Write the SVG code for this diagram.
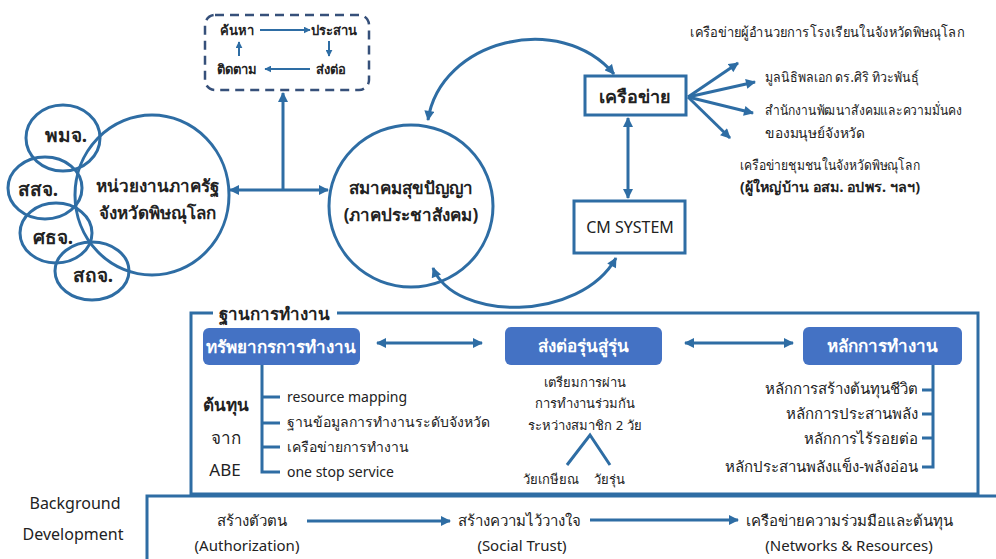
<svg xmlns="http://www.w3.org/2000/svg" width="996" height="559" viewBox="0 0 996 559">
<defs>
<style>
text{font-family:"Noto Sans","DejaVu Sans","Liberation Sans",sans-serif;fill:#222;}
.b{font-weight:bold;}
.c{text-anchor:middle;}
.e{text-anchor:end;}
.ln{fill:none;stroke:#2E6DA4;stroke-width:3;}
.thin{fill:none;stroke:#2E6DA4;stroke-width:2;}
.circn{fill:none;stroke:#2E6DA4;stroke-width:3;}
.blue{fill:#4472C4;}
.wt{fill:#fff;font-weight:bold;font-size:17px;text-anchor:middle;}
</style>
<marker id="ah" viewBox="0 0 10 10" refX="9" refY="5" markerWidth="11" markerHeight="10" markerUnits="userSpaceOnUse" orient="auto-start-reverse"><path d="M0,0 L10,5 L0,10 z" fill="#2E6DA4"/></marker>
<marker id="sm" viewBox="0 0 10 10" refX="9" refY="5" markerWidth="7" markerHeight="7" markerUnits="userSpaceOnUse" orient="auto-start-reverse"><path d="M0,0 L10,5 L0,10 z" fill="#2E6DA4"/></marker>
</defs>
<rect width="996" height="559" fill="#fff"/>

<g id="cycle">
<rect x="205" y="15" width="164" height="75" rx="10" fill="none" stroke="#36507A" stroke-width="2.5" stroke-dasharray="9,6"/>
<text class="c b" x="237" y="35" font-size="13">ค้นหา</text>
<text class="c b" x="334" y="35" font-size="13">ประสาน</text>
<text class="c b" x="237" y="74" font-size="13">ติดตาม</text>
<text class="c b" x="331" y="74" font-size="13">ส่งต่อ</text>
<path class="thin" d="M260,30 H310" marker-end="url(#sm)"/>
<path class="thin" d="M329,41 V56" marker-end="url(#sm)"/>
<path class="thin" d="M310,69 H265" marker-end="url(#sm)"/>
<path class="thin" d="M239,56 V42" marker-end="url(#sm)"/>
</g>

<g id="gov">
<ellipse class="circn" cx="152" cy="195" rx="77" ry="80"/>
<ellipse class="circn" cx="63" cy="138" rx="37" ry="33"/>
<ellipse class="circn" cx="45" cy="188" rx="37" ry="31"/>
<ellipse class="circn" cx="56" cy="233" rx="36" ry="30"/>
<ellipse class="circn" cx="92" cy="271" rx="37" ry="29"/>
<text class="c b" x="66" y="142" font-size="19">พมจ.</text>
<text class="c b" x="38" y="196" font-size="19">สสจ.</text>
<text class="c b" x="53" y="244" font-size="19">ศธจ.</text>
<text class="c b" x="93" y="282" font-size="19">สถจ.</text>
<text class="c b" x="157" y="192" font-size="17">หน่วยงานภาครัฐ</text>
<text class="c b" x="157" y="219" font-size="17">จังหวัดพิษณุโลก</text>
</g>

<g id="assoc">
<ellipse class="circn" cx="411" cy="206" rx="82" ry="81"/>
<text class="c b" x="411" y="194" font-size="17">สมาคมสุขปัญญา</text>
<text class="c b" x="411" y="221" font-size="17">(ภาคประชาสังคม)</text>
</g>

<g id="network">
<rect x="585" y="76" width="101" height="39" fill="#fff" stroke="#2E6DA4" stroke-width="3"/>
<text class="c b" x="635" y="103" font-size="18">เครือข่าย</text>
</g>

<g id="cmsystem">
<rect x="574" y="201" width="111" height="52" fill="#fff" stroke="#2E6DA4" stroke-width="3"/>
<text class="c" x="630" y="233" font-size="16">CM SYSTEM</text>
</g>

<g id="partners">
<text x="690" y="37" font-size="14" textLength="274" lengthAdjust="spacingAndGlyphs">เครือข่ายผู้อำนวยการโรงเรียนในจังหวัดพิษณุโลก</text>
<text x="765" y="82" font-size="14" textLength="154" lengthAdjust="spacingAndGlyphs">มูลนิธิพลเอก ดร.ศิริ ทิวะพันธุ์</text>
<text x="765" y="115" font-size="14" textLength="197" lengthAdjust="spacingAndGlyphs">สำนักงานพัฒนาสังคมและความมั่นคง</text>
<text x="765" y="138" font-size="14" textLength="100" lengthAdjust="spacingAndGlyphs">ของมนุษย์จังหวัด</text>
<text x="740" y="170" font-size="14" textLength="180" lengthAdjust="spacingAndGlyphs">เครือข่ายชุมชนในจังหวัดพิษณุโลก</text>
<text class="b" x="740" y="192" font-size="14" textLength="180" lengthAdjust="spacingAndGlyphs">(ผู้ใหญ่บ้าน อสม. อปพร. ฯลฯ)</text>
</g>

<g id="base">
<path class="ln" d="M213,313 H191 V494 H978 V313 H337"/>
<text class="b" x="219" y="320" font-size="17">ฐานการทำงาน</text>
</g>

<g id="resources">
<rect class="blue" x="203" y="328" width="157" height="37" rx="6"/>
<text class="wt" x="281" y="353">ทรัพยากรการทำงาน</text>
<path class="ln" d="M262,365 V472 H280 M262,397 H280 M262,423 H280 M262,447 H280"/>
<text x="287" y="402" font-size="14">resource mapping</text>
<text x="287" y="427" font-size="14">ฐานข้อมูลการทำงานระดับจังหวัด</text>
<text x="287" y="452" font-size="14">เครือข่ายการทำงาน</text>
<text x="287" y="477" font-size="14">one stop service</text>
<text class="c b" x="226" y="411" font-size="17">ต้นทุน</text>
<text class="c" x="226" y="444" font-size="17">จาก</text>
<text class="c" x="225" y="476" font-size="17">ABE</text>
</g>

<g id="generation">
<rect class="blue" x="505" y="327" width="157" height="38" rx="6"/>
<text class="wt" x="583" y="352">ส่งต่อรุ่นสู่รุ่น</text>
<text class="c" x="585" y="387" font-size="13">เตรียมการผ่าน</text>
<text class="c" x="585" y="408" font-size="13">การทำงานร่วมกัน</text>
<text class="c" x="585" y="430" font-size="13">ระหว่างสมาชิก 2 วัย</text>
<path class="ln" d="M567,465 L590,435 L610,465"/>
<text class="c" x="551" y="484" font-size="13">วัยเกษียณ</text>
<text class="c" x="609" y="484" font-size="13">วัยรุ่น</text>
</g>

<g id="principles">
<rect class="blue" x="803" y="327" width="159" height="38" rx="6"/>
<text class="wt" x="882" y="352">หลักการทำงาน</text>
<path class="ln" d="M933,365 V467 H922 M933,390 H922 M933,414 H922 M933,438 H922"/>
<text class="e" x="918" y="394" font-size="15">หลักการสร้างต้นทุนชีวิต</text>
<text class="e" x="918" y="419" font-size="15">หลักการประสานพลัง</text>
<text class="e" x="918" y="444" font-size="15">หลักการไร้รอยต่อ</text>
<text class="e" x="918" y="472" font-size="15">หลักประสานพลังแข็ง-พลังอ่อน</text>
</g>

<g id="background">
<path class="ln" d="M147,559 V496 H996"/>
<text class="c" x="75" y="509" font-size="16">Background</text>
<text class="c" x="73" y="540" font-size="16">Development</text>
<text class="c" x="252" y="526" font-size="15">สร้างตัวตน</text>
<text class="c" x="247" y="551" font-size="15">(Authorization)</text>
<text class="c" x="519" y="526" font-size="15">สร้างความไว้วางใจ</text>
<text class="c" x="522" y="551" font-size="15">(Social Trust)</text>
<text class="c" x="849" y="526" font-size="15">เครือข่ายความร่วมมือและต้นทุน</text>
<text class="c" x="849" y="551" font-size="15">(Networks &amp; Resources)</text>
</g>

<g id="connectors">
<path class="ln" d="M283,190 V93" marker-end="url(#ah)"/>
<path class="ln" d="M230,190 H328" marker-start="url(#ah)" marker-end="url(#ah)"/>
<path class="ln" d="M428,120 C440,40 560,10 614,74" marker-start="url(#ah)" marker-end="url(#ah)"/>
<path class="ln" d="M433,268 C455,322 580,322 616,258" marker-start="url(#ah)" marker-end="url(#ah)"/>
<path class="ln" d="M628,118 V198" marker-start="url(#ah)" marker-end="url(#ah)"/>
<path class="ln" d="M688,97 L738,63" marker-end="url(#ah)"/>
<path class="ln" d="M688,97 L755,82" marker-end="url(#ah)"/>
<path class="ln" d="M688,97 L753,113" marker-end="url(#ah)"/>
<path class="ln" d="M688,97 L730,138" marker-end="url(#ah)"/>
<path class="ln" d="M377,343 H482" marker-start="url(#ah)" marker-end="url(#ah)"/>
<path class="ln" d="M685,343 H793" marker-start="url(#ah)" marker-end="url(#ah)"/>
<path class="ln" d="M307,521 H450" marker-end="url(#ah)"/>
<path class="ln" d="M590,520 H738" marker-end="url(#ah)"/>
</g>
</svg>
